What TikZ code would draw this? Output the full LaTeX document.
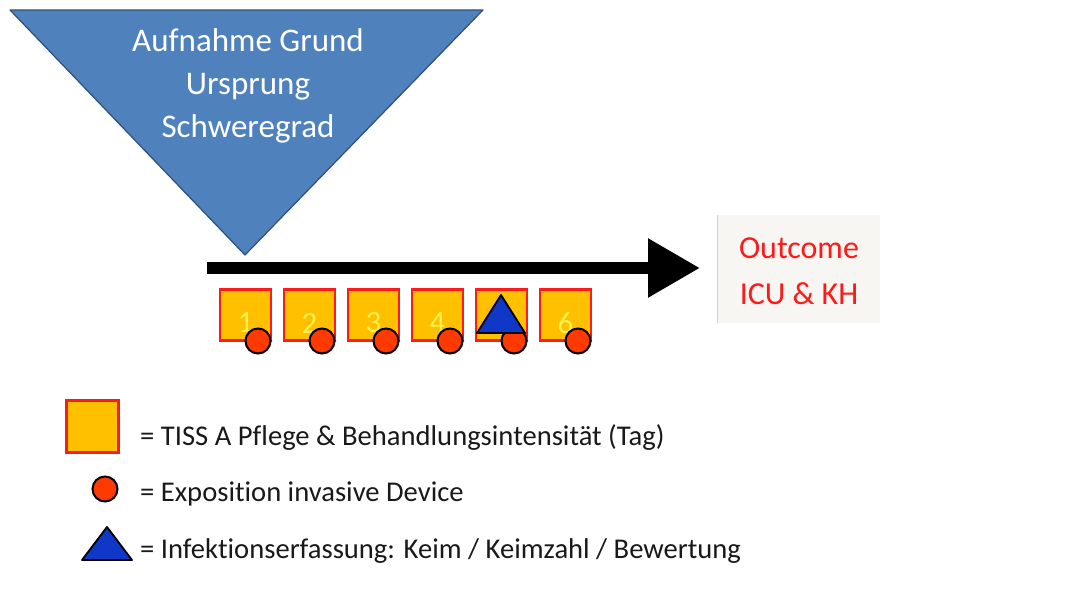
\documentclass[tikz,border=0pt]{standalone}
\usepackage{fontspec}
\setmainfont[Ligatures=NoCommon]{Carlito}
\usetikzlibrary{arrows.meta,positioning}

\definecolor{topblue}{HTML}{4F81BD}
\definecolor{topedge}{HTML}{2F4F7A}
\definecolor{dayfill}{HTML}{FFC000}
\definecolor{dayedge}{HTML}{FF1A1A}
\definecolor{devfill}{HTML}{FF3A00}
\definecolor{infblue}{HTML}{1038C8}
\definecolor{outfill}{HTML}{F7F6F2}
\definecolor{outred}{HTML}{FF1A1A}
\definecolor{numyellow}{HTML}{FFF04D}

\tikzset{
  daybox/.style={draw=dayedge, line width=2.2pt, fill=dayfill, minimum size=51pt, inner sep=0pt},
  daynum/.style={text=numyellow, font=\fontsize{31}{31}\selectfont, inner sep=0pt},
  device/.style={circle, draw=black, line width=2pt, fill=devfill, minimum size=25pt, inner sep=0pt},
  infect/.style={draw=black, line width=1.8pt, fill=infblue, line join=round},
  legtext/.style={anchor=west, text=black!90, font=\fontsize{28.6}{28.6}\selectfont, inner sep=0pt}
}

\begin{document}
\begin{tikzpicture}[x=1pt,y=-1pt]
  \useasboundingbox[fill=white] (0,0) rectangle (1082,608);

  % admission triangle
  \draw[fill=topblue, draw=topedge, line width=1.2pt, line join=round]
    (10,10) -- (483,10) -- (245,255) -- cycle;
  \node[text=white, align=center, font=\fontsize{33}{43}\selectfont] (reason) at (248,86)
    {Aufnahme Grund\\Ursprung\\Schweregrad};

  % time line
  \coordinate (start) at (207,268);
  \coordinate (end) at (700,268);
  \draw[line width=12pt, -{Triangle[length=52pt, width=56pt]}] (start) -- (end);

  % outcome
  \node[fill=outfill, minimum width=162pt, minimum height=108pt, inner sep=0pt] (outcome) at (799,269) {};
  \draw[black!18, line width=1pt] (outcome.north west) -- (outcome.south west);
  \node[text=outred, align=center, font=\fontsize{32}{46}\selectfont] (outtext) at (799,271)
    {Outcome\\ICU \& KH};

  % days
  \node[daybox] (d1) at (245.5,315) {};
  \node[daybox] (d2) at (309.5,315) {};
  \node[daybox] (d3) at (373.5,315) {};
  \node[daybox] (d4) at (437.5,315) {};
  \node[daybox] (d5) at (501.5,315) {};
  \node[daybox] (d6) at (565.5,315) {};

  \node[daynum] (n1) at ([yshift=-8pt]d1.center) {1};
  \node[daynum] (n2) at ([yshift=-8pt]d2.center) {2};
  \node[daynum] (n3) at ([yshift=-8pt]d3.center) {3};
  \node[daynum] (n4) at ([yshift=-8pt]d4.center) {4};
  \node[daynum] (n6) at ([yshift=-8pt]d6.center) {6};

  \node[device] (c1) at (258,341) {};
  \node[device] (c2) at (322,341) {};
  \node[device] (c3) at (386,341) {};
  \node[device] (c4) at (450,341) {};
  \node[device] (c5) at (514,341) {};
  \node[device] (c6) at (578,341) {};

  \draw[infect] (501,295) -- (525,333) -- (477,333) -- cycle;

  % legend
  \node[daybox, minimum size=52pt] (kday) at (92.5,426.5) {};
  \node[legtext] (tday) at (140,437) {= TISS A Pflege \& Behandlungsintensität (Tag)};

  \node[device] (kdev) at (105,489) {};
  \node[legtext] (tdev) at (140,494) {= Exposition invasive Device};

  \draw[infect] (107,527) -- (132,560) -- (82,560) -- cycle;
  \node[legtext] (tinf) at (140,551) {= Infektionserfassung: Keim / Keimzahl / Bewertung};
\end{tikzpicture}
\end{document}
